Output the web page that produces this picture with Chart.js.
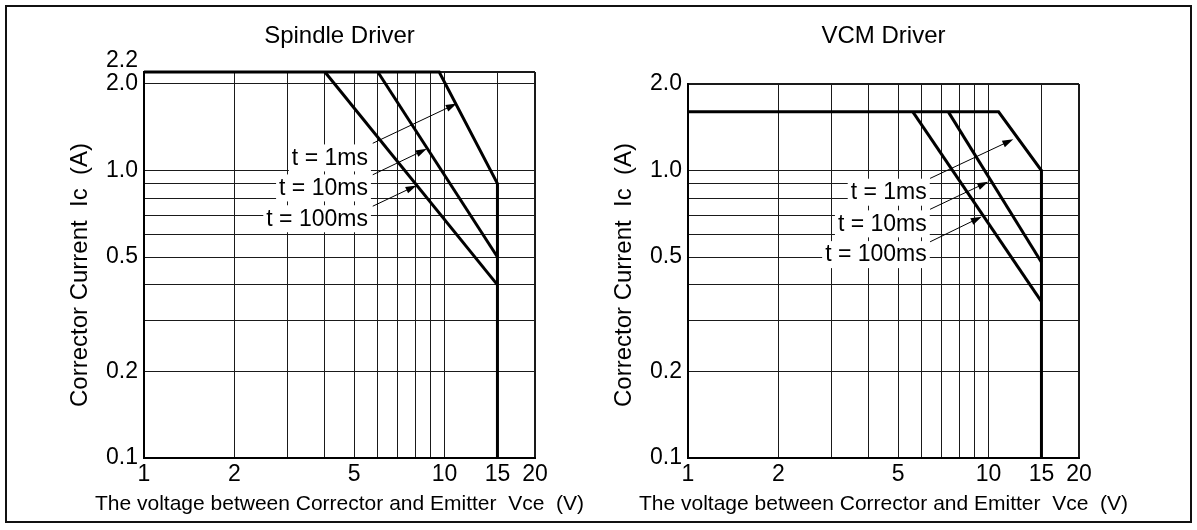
<!DOCTYPE html>
<html>
<head>
<meta charset="utf-8">
<script src="https://cdn.jsdelivr.net/npm/chart.js"></script>
<style>
  body { margin: 0; background: #fff; }
  #frame { position: absolute; left: 5px; top: 5px; width: 1187px; height: 518px; box-sizing: border-box; border: 2px solid #111; }
  .box { position: absolute; top: 0; width: 598px; height: 530px; }
</style>
</head>
<body>
<div id="frame"></div>
<div class="box" style="left:0"><canvas id="spindleChart" width="598" height="530"></canvas></div>
<div class="box" style="left:544px"><canvas id="vcmChart" width="598" height="530"></canvas></div>
<script>
// axes
const xGridValues = [1, 2, 3, 4, 5, 6, 7, 8, 9, 10, 15, 20];
const xTickLabels = [1, 2, 5, 10, 15, 20];
const spindleYGrid = [0.1, 0.2, 0.3, 0.4, 0.5, 0.6, 0.7, 0.8, 0.9, 1.0, 2.0, 2.2];
const spindleYLabels = [0.1, 0.2, 0.5, 1.0, 2.0, 2.2];
const vcmYGrid = [0.1, 0.2, 0.3, 0.4, 0.5, 0.6, 0.7, 0.8, 0.9, 1.0, 2.0];
const vcmYLabels = [0.1, 0.2, 0.5, 1.0, 2.0];
const xTitle = 'The voltage between Corrector and Emitter  Vce  (V)';
const yTitle = 'Corrector Current  Ic  (A)';

// Spindle Driver curves (Vce, Ic)
const spindleV1ms = [1, 9.6, 15, 15];
const spindleI1ms = [2.2, 2.2, 0.9, 0.1];
const spindleV10ms = [6, 15];
const spindleI10ms = [2.2, 0.5];
const spindleV100ms = [4, 15];
const spindleI100ms = [2.2, 0.4];

// VCM Driver curves
const vcmV1ms = [1, 10.8, 15, 15];
const vcmI1ms = [1.6, 1.6, 1.0, 0.1];
const vcmV10ms = [7.35, 15];
const vcmI10ms = [1.6, 0.48];
const vcmV100ms = [5.6, 15];
const vcmI100ms = [1.6, 0.35];

// callouts: label anchor (right edge) and arrow from/to, in data units
const labelTexts = ['t = 1ms', 't = 10ms', 't = 100ms'];
const spindleLabelX = [5.56, 5.56, 5.56];
const spindleLabelY = [1.11, 0.873, 0.682];
const spindleArrowX0 = [5.77, 5.77, 5.77];
const spindleArrowY0 = [1.243, 0.966, 0.751];
const spindleArrowX1 = [10.98, 8.73, 8.07];
const spindleArrowY1 = [1.709, 1.189, 0.887];
const vcmLabelX = [6.23, 6.23, 6.23];
const vcmLabelY = [0.844, 0.655, 0.512];
const vcmArrowX0 = [6.39, 6.39, 6.39];
const vcmArrowY0 = [0.939, 0.733, 0.565];
const vcmArrowX1 = [12.09, 9.98, 9.49];
const vcmArrowY1 = [1.284, 0.914, 0.691];

const FONT = '"Liberation Sans", Arial, sans-serif';

function toPoints(xs, ys) {
  return xs.map((v, i) => ({ x: v, y: ys[i] }));
}

const overlayPlugin = {
  id: 'overlay',
  afterDatasetsDraw(chart, args, opts) {
    const { ctx, chartArea } = chart;
    const xs = chart.scales.x, ys = chart.scales.y;
    const midX = (chartArea.left + chartArea.right) / 2;
    ctx.save();
    ctx.fillStyle = '#000';
    ctx.textAlign = 'center';
    ctx.textBaseline = 'middle';
    ctx.font = '24px ' + FONT;
    ctx.fillText(opts.title, midX, opts.titleY);

    // axis titles (drawn here so the long x title is not squeezed to the plot width)
    ctx.font = '21px ' + FONT;
    ctx.fillText(xTitle, midX, 504);
    ctx.save();
    ctx.translate(80, 275);
    ctx.rotate(-Math.PI / 2);
    ctx.font = '24px ' + FONT;
    ctx.fillText(yTitle, 0, 0);
    ctx.restore();

    ctx.font = '23px ' + FONT;
    labelTexts.forEach((text, i) => {
      const px = xs.getPixelForValue(opts.labelX[i]);
      const py = ys.getPixelForValue(opts.labelY[i]);
      const w = ctx.measureText(text).width;
      ctx.fillStyle = '#fff';
      ctx.fillRect(px - w - 3, py - 13, w + 6, 27);
      ctx.fillStyle = '#000';
      ctx.textAlign = 'right';
      ctx.fillText(text, px, py + 1);

      // arrow
      const x0 = xs.getPixelForValue(opts.ax0[i]), y0 = ys.getPixelForValue(opts.ay0[i]);
      const x1 = xs.getPixelForValue(opts.ax1[i]), y1 = ys.getPixelForValue(opts.ay1[i]);
      const ang = Math.atan2(y1 - y0, x1 - x0);
      ctx.strokeStyle = '#000';
      ctx.lineWidth = 1;
      ctx.beginPath();
      ctx.moveTo(x0, y0);
      ctx.lineTo(x1 - 8 * Math.cos(ang), y1 - 8 * Math.sin(ang));
      ctx.stroke();
      ctx.beginPath();
      ctx.moveTo(x1, y1);
      ctx.lineTo(x1 - 11 * Math.cos(ang) + 3.5 * Math.sin(ang), y1 - 11 * Math.sin(ang) - 3.5 * Math.cos(ang));
      ctx.lineTo(x1 - 11 * Math.cos(ang) - 3.5 * Math.sin(ang), y1 - 11 * Math.sin(ang) + 3.5 * Math.cos(ang));
      ctx.closePath();
      ctx.fill();
    });
    ctx.restore();
  }
};

function lineSet(xs, ys) {
  return {
    data: toPoints(xs, ys),
    borderColor: '#000',
    borderWidth: 3,
    pointRadius: 0,
    tension: 0,
    fill: false,
    clip: false
  };
}

// y label text; the 2.2 label sits close to 2.0, so it is pushed up one line
function yLabel(v, yLabels, yMax) {
  if (!yLabels.some(l => Math.abs(l - v) < 1e-9)) return '';
  if (yMax > 2 && Math.abs(v - yMax) < 1e-9) return [v.toFixed(1), ''];
  return v.toFixed(1);
}

function makeChart(id, sets, yMax, yGrid, yLabels, topPad, overlay) {
  return new Chart(document.getElementById(id), {
    type: 'line',
    data: { datasets: sets.map(s => lineSet(s[0], s[1])) },
    plugins: [overlayPlugin],
    options: {
      responsive: false,
      animation: false,
      layout: { padding: { top: topPad, right: 63, left: 0, bottom: 0 } },
      plugins: { legend: { display: false }, tooltip: { enabled: false }, overlay: overlay },
      scales: {
        x: {
          type: 'logarithmic',
          min: 1,
          max: 20,
          afterBuildTicks: axis => { axis.ticks = xGridValues.map(v => ({ value: v })); },
          afterFit: axis => { axis.height = 72; },
          ticks: {
            autoSkip: false,
            maxRotation: 0,
            padding: 3,
            color: '#000',
            font: { family: FONT, size: 23 },
            callback: v => xTickLabels.includes(v) ? String(v) : ''
          },
          grid: {
            drawTicks: false,
            color: '#1a1a1a',
            lineWidth: c => (c.tick && c.tick.value === 20) ? 2 : 1
          },
          border: { color: '#000', width: 2 }
        },
        y: {
          type: 'logarithmic',
          min: 0.1,
          max: yMax,
          afterBuildTicks: axis => { axis.ticks = yGrid.map(v => ({ value: v })); },
          afterFit: axis => { axis.width = 144; },
          ticks: {
            autoSkip: false,
            padding: 6,
            color: '#000',
            font: { family: FONT, size: 23, lineHeight: 1.0 },
            callback: v => yLabel(v, yLabels, yMax)
          },
          grid: {
            drawTicks: false,
            color: '#1a1a1a',
            lineWidth: c => (c.tick && Math.abs(c.tick.value - yMax) < 1e-9) ? 2 : 1
          },
          border: { color: '#000', width: 2 }
        }
      }
    }
  });
}

makeChart('spindleChart',
  [[spindleV1ms, spindleI1ms], [spindleV10ms, spindleI10ms], [spindleV100ms, spindleI100ms]],
  2.2, spindleYGrid, spindleYLabels, 72,
  { title: 'Spindle Driver', titleY: 36, labelX: spindleLabelX, labelY: spindleLabelY,
    ax0: spindleArrowX0, ay0: spindleArrowY0, ax1: spindleArrowX1, ay1: spindleArrowY1 });

makeChart('vcmChart',
  [[vcmV1ms, vcmI1ms], [vcmV10ms, vcmI10ms], [vcmV100ms, vcmI100ms]],
  2.0, vcmYGrid, vcmYLabels, 84,
  { title: 'VCM Driver', titleY: 36, labelX: vcmLabelX, labelY: vcmLabelY,
    ax0: vcmArrowX0, ay0: vcmArrowY0, ax1: vcmArrowX1, ay1: vcmArrowY1 });
</script>
</body>
</html>
